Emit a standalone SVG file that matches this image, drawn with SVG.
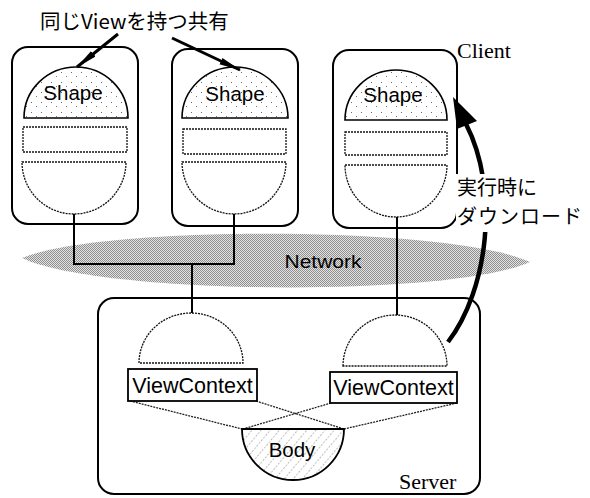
<svg xmlns="http://www.w3.org/2000/svg" width="590" height="498" viewBox="0 0 590 498">
<defs>
<pattern id="stipple" width="10" height="10" patternUnits="userSpaceOnUse">
<rect width="10" height="10" fill="#fff"/>
<rect x="1" y="2" width="1" height="1" fill="#666"/>
<rect x="6" y="6" width="1" height="1" fill="#777"/>
</pattern>
<pattern id="dither" width="2" height="2" patternUnits="userSpaceOnUse">
<rect width="2" height="2" fill="#e2e2e2"/>
<rect x="0" y="0" width="1" height="1" fill="#909090"/>
<rect x="1" y="1" width="1" height="1" fill="#909090"/>
</pattern>
<pattern id="hatch" width="7" height="7" patternUnits="userSpaceOnUse" patternTransform="rotate(40)">
<rect width="7" height="7" fill="#fff"/>
<line x1="0" y1="0" x2="0" y2="7" stroke="#777" stroke-width="1" stroke-dasharray="2,1.5"/>
</pattern>
<marker id="ah" viewBox="0 0 22 10" refX="21" refY="5" markerWidth="22" markerHeight="10" markerUnits="userSpaceOnUse" orient="auto">
<path d="M0,1.5 L22,5 L0,8.5 Z" fill="#000"/>
</marker>
</defs>
<style>
.box{fill:#fff;stroke:#000;stroke-width:2}
.shape{fill:url(#stipple);stroke:#000;stroke-width:1.6}
.dot{fill:#fff;stroke:#111;stroke-width:1.3;stroke-dasharray:2,1}
.solid{fill:none;stroke:#000;stroke-width:2}
.vc{fill:#fff;stroke:#000;stroke-width:1.8}
.sans{font-family:"Liberation Sans",Arial,sans-serif;fill:#000}
.serif{font-family:"Liberation Serif","Times New Roman",serif;fill:#000}
.jp{font-family:"Noto Sans CJK JP","Noto Sans",sans-serif;fill:#000}
</style>

<g id="network">
<path d="M22,258 C100,225 450,225 530,262 C450,298 100,295 22,258 Z" fill="url(#dither)"/>
<text class="sans" x="323" y="268" font-size="19" text-anchor="middle" textLength="77" lengthAdjust="spacingAndGlyphs">Network</text>
</g>

<g id="client1">
<rect class="box" x="12" y="47" width="126" height="177" rx="16"/>
<path class="shape" d="M24,118 A52,51 0 0 1 128,118 Z"/>
<text class="sans" x="73" y="100" font-size="20.5" text-anchor="middle">Shape</text>
<rect class="dot" x="23" y="127" width="104" height="25"/>
<path class="dot" d="M22,162 L126,162 A52,52 0 0 1 22,162 Z"/>
</g>

<g id="client2">
<rect class="box" x="172" y="49" width="126" height="177" rx="16"/>
<path class="shape" d="M182,118 A52,50 0 0 1 288,118 Z"/>
<text class="sans" x="235" y="101" font-size="20.5" text-anchor="middle">Shape</text>
<rect class="dot" x="183" y="129" width="103" height="25"/>
<path class="dot" d="M182,162 L286,162 A52,52 0 0 1 182,162 Z"/>
</g>

<g id="client3">
<rect class="box" x="333" y="50" width="124" height="178" rx="16"/>
<path class="shape" d="M345,120 A51,50 0 0 1 447,120 Z"/>
<text class="sans" x="393" y="102" font-size="20.5" text-anchor="middle">Shape</text>
<rect class="dot" x="345" y="132" width="102" height="23"/>
<path class="dot" d="M345,165 L447,165 A51,52 0 0 1 345,165 Z"/>
</g>

<g id="server">
<rect class="box" x="98" y="298" width="382" height="196" rx="16"/>
<path class="dot" d="M139,363 A52,50 0 0 1 243,363 Z"/>
<path class="dot" d="M343,366 A52,51 0 0 1 447,366 Z"/>
<text class="serif" x="399" y="489" font-size="22">Server</text>
</g>

<g id="links">
<path d="M130,401 L242,429 M256,401 L344,429 M331,403 L243,429 M457,403 L344,429" fill="none" stroke="#222" stroke-width="1.3" stroke-dasharray="2,1"/>
</g>

<g id="vc1">
<rect class="vc" x="128" y="369" width="129" height="32"/>
<text class="sans" x="192.5" y="393" font-size="21.5" text-anchor="middle">ViewContext</text>
</g>
<g id="vc2">
<rect class="vc" x="330" y="372" width="127" height="31"/>
<text class="sans" x="393.5" y="395" font-size="21.5" text-anchor="middle">ViewContext</text>
</g>

<g id="body">
<path d="M242,429 L344,429 A51,51 0 0 1 242,429 Z" fill="url(#hatch)" stroke="#000" stroke-width="1.8"/>
<text class="sans" x="292" y="457" font-size="20.5" text-anchor="middle">Body</text>
</g>

<g id="connectors">
<path class="solid" d="M74,214 L74,264 L234,264 L234,214"/>
<path class="solid" d="M192,264 L192,313"/>
<path class="solid" d="M397,217 L397,315"/>
<path d="M118,34 L77,67" fill="none" stroke="#000" stroke-width="3" marker-end="url(#ah)"/>
<path d="M172,38 L240,70" fill="none" stroke="#000" stroke-width="3" marker-end="url(#ah)"/>
<path d="M448,342 C488,290 500,190 466,124" fill="none" stroke="#000" stroke-width="4.5"/>
<path d="M453,97 L477,121 L457,129 Z" fill="#000"/>
</g>

<g id="labels">
<rect x="456" y="174" width="130" height="58" fill="#fff"/>
<text class="jp" x="457" y="195" font-size="20">実行時に</text>
<text class="jp" x="457" y="224" font-size="20" letter-spacing="1">ダウンロード</text>
<text class="jp" x="40" y="29" font-size="20.5">同じViewを持つ共有</text>
<text class="serif" x="457" y="58" font-size="22">Client</text>
</g>
</svg>
